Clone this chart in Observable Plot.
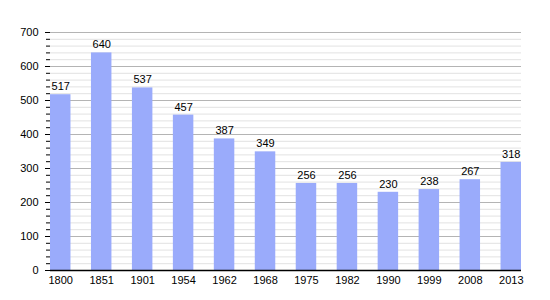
<!DOCTYPE html>
<html>
<head>
<meta charset="utf-8">
<script src="https://cdn.jsdelivr.net/npm/d3@7"></script>
<script src="https://cdn.jsdelivr.net/npm/@observablehq/plot@0.6"></script>
<style>
  body { margin: 0; background: #fff; }
  svg { font-family: "Liberation Sans", Arial, sans-serif; }
</style>
</head>
<body>
<div id="chart"></div>
<script>
const years = ["1800","1851","1901","1954","1962","1968","1975","1982","1990","1999","2008","2013"];
const population = [517, 640, 537, 457, 387, 349, 256, 256, 230, 238, 267, 318];
const majorTicks = [0, 100, 200, 300, 400, 500, 600, 700];
const minorTicks = d3.range(0, 701, 20);

const data = years.map((y, i) => ({year: y, value: population[i]}));

const chart = Plot.plot({
  width: 550,
  height: 300,
  marginTop: 32,
  marginBottom: 30,
  marginLeft: 50,
  marginRight: 29,
  style: {fontFamily: "Liberation Sans, Arial, sans-serif", fontSize: "11px", background: "#fff", color: "#000"},
  x: {domain: years, paddingInner: 0.5, paddingOuter: 0, round: false, label: null},
  y: {domain: [0, 700], label: null},
  marks: [
    Plot.ruleY(minorTicks.filter(d => d % 100 !== 0), {stroke: "#e2e2e2", strokeWidth: 1}),
    Plot.ruleY(majorTicks.filter(d => d > 0), {stroke: "#b4b4b4", strokeWidth: 1}),
    Plot.barY(data, {x: "year", y: "value", fill: "#9aabfb"}),
    Plot.text(data, {x: "year", y: "value", text: d => String(d.value), dy: -8, fill: "#000", fontSize: 11}),
    Plot.axisY({ticks: minorTicks, tickSize: 4, tickFormat: () => "", stroke: "#000"}),
    Plot.axisY({ticks: majorTicks, tickSize: 5, tickPadding: 7, stroke: "#000", fill: "#000", fontSize: 11}),
    Plot.axisX({tickSize: 0, tickPadding: 6, fill: "#000", fontSize: 11}),
    Plot.ruleX([0], {frameAnchor: "left", stroke: "#000"}),
    Plot.ruleY([0], {stroke: "#000", strokeWidth: 1.5})
  ]
});
document.getElementById("chart").appendChild(chart);
</script>
</body>
</html>
